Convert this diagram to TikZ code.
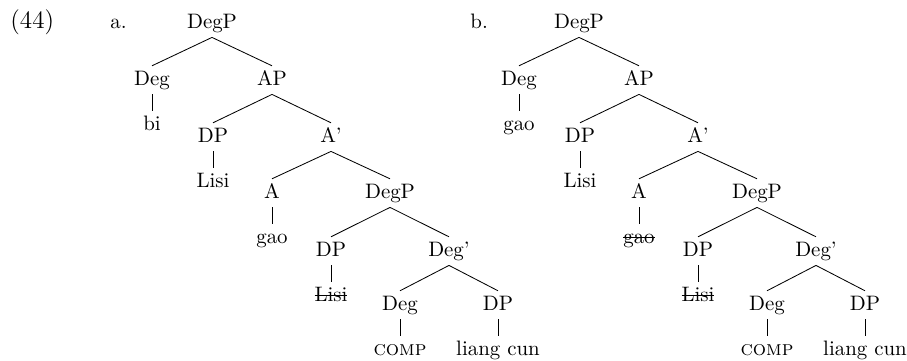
\documentclass[tikz,border=0pt]{standalone}
\newcommand\strk[1]{\setbox0=\hbox{#1}\rlap{\rule[0.6ex]{\wd0}{0.4pt}}\box0}
\tikzset{cat/.style={anchor=base, inner sep=2pt, text height=7pt, text depth=2.3pt}}
\begin{document}
\begin{tikzpicture}[x=0.4785pt, y=-0.4785pt]
\useasboundingbox (0,0) rectangle (907,360);
\node[anchor=base west, inner sep=0pt, font=\large] (exnum) at (10,28) {(44)};
\node[anchor=base west, inner sep=0pt] (alabel) at (110,28) {a.};
\node[anchor=base west, inner sep=0pt] (blabel) at (470,28) {b.};
\begin{scope}
\node[cat] (a-degp) at (212,28) {DegP};
\node[cat] (a-deg) at (152,85) {Deg};
\node[cat] (a-ap) at (272,85) {AP};
\node[cat] (a-bi) at (152,130) {bi};
\node[cat] (a-dp) at (213,142) {DP};
\node[cat] (a-abar) at (331,142) {A'};
\node[cat] (a-lisi) at (213,187) {Lisi};
\node[cat] (a-a) at (272,198) {A};
\node[cat] (a-degp2) at (390,198) {DegP};
\node[cat] (a-gao) at (272,243) {gao};
\node[cat] (a-dp2) at (331,256) {DP};
\node[cat] (a-degbar) at (449,256) {Deg'};
\node[cat] (a-lisi2) at (331,301) {\strk{Lisi}};
\node[cat] (a-deg2) at (400,310) {Deg};
\node[cat] (a-dp3) at (498,310) {DP};
\node[cat] (a-comp) at (400,355) {\textsc{comp}};
\node[cat] (a-lc) at (498,355) {liang cun};
\end{scope}
\begin{scope}[shift={(367,0)}]
\node[cat] (b-degp) at (212,28) {DegP};
\node[cat] (b-deg) at (152,85) {Deg};
\node[cat] (b-ap) at (272,85) {AP};
\node[cat] (b-gao) at (152,130) {gao};
\node[cat] (b-dp) at (213,142) {DP};
\node[cat] (b-abar) at (331,142) {A'};
\node[cat] (b-lisi) at (213,187) {Lisi};
\node[cat] (b-a) at (272,198) {A};
\node[cat] (b-degp2) at (390,198) {DegP};
\node[cat] (b-gao2) at (272,243) {\strk{gao}};
\node[cat] (b-dp2) at (331,256) {DP};
\node[cat] (b-degbar) at (449,256) {Deg'};
\node[cat] (b-lisi2) at (331,301) {\strk{Lisi}};
\node[cat] (b-deg2) at (400,310) {Deg};
\node[cat] (b-dp3) at (498,310) {DP};
\node[cat] (b-comp) at (400,355) {\textsc{comp}};
\node[cat] (b-lc) at (498,355) {liang cun};
\end{scope}
\foreach \p/\c in {degp/deg, degp/ap, deg/bi, ap/dp, ap/abar, dp/lisi, abar/a, abar/degp2, a/gao, degp2/dp2, degp2/degbar, dp2/lisi2, degbar/deg2, degbar/dp3, deg2/comp, dp3/lc}
  \draw (a-\p.south) -- (a-\c.north);
\foreach \p/\c in {degp/deg, degp/ap, deg/gao, ap/dp, ap/abar, dp/lisi, abar/a, abar/degp2, a/gao2, degp2/dp2, degp2/degbar, dp2/lisi2, degbar/deg2, degbar/dp3, deg2/comp, dp3/lc}
  \draw (b-\p.south) -- (b-\c.north);
\end{tikzpicture}
\end{document}
